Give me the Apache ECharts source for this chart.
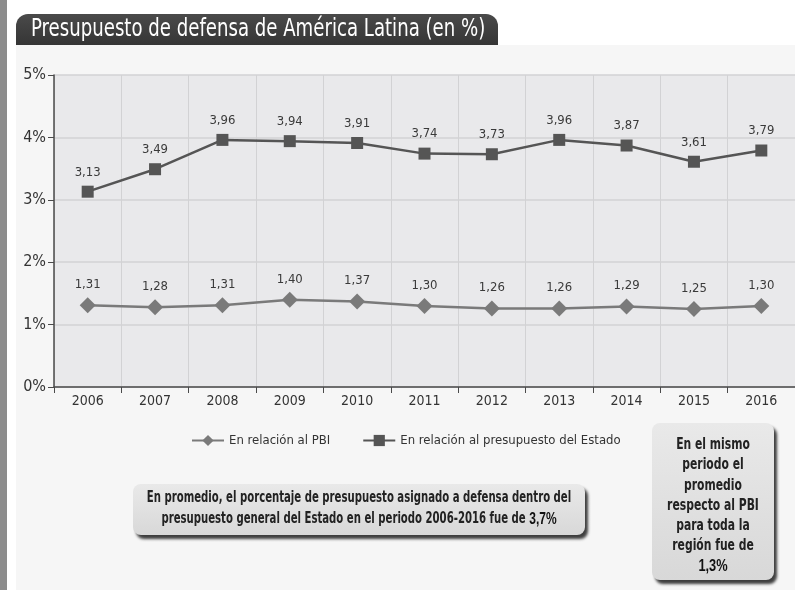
<!DOCTYPE html>
<html>
<head>
<meta charset="utf-8">
<script src="https://cdn.jsdelivr.net/npm/echarts@6/dist/echarts.min.js"></script>
<style>
  html, body { margin: 0; padding: 0; background: #ffffff; }
  #chart { width: 795px; height: 590px; }
</style>
</head>
<body>
<div id="chart"></div>
<script>
// Years on the horizontal axis
const years = ['2006', '2007', '2008', '2009', '2010', '2011', '2012', '2013', '2014', '2015', '2016'];
// Defence spending as % of GDP
const pbiValues = [1.31, 1.28, 1.31, 1.40, 1.37, 1.30, 1.26, 1.26, 1.29, 1.25, 1.30];
// Defence spending as % of the national budget
const estadoValues = [3.13, 3.49, 3.96, 3.94, 3.91, 3.74, 3.73, 3.96, 3.87, 3.61, 3.79];
// Vertical axis ticks (percent)
const yTicks = [0, 1, 2, 3, 4, 5];

const seriesNames = ['En relación al PBI', 'En relación al presupuesto del Estado'];
const FONT = '"DejaVu Sans Condensed", "Liberation Sans", sans-serif';

const fmt = v => v.toFixed(2).replace('.', ',');

const chart = echarts.init(document.getElementById('chart'), null, { renderer: 'canvas' });

const boxFill = new echarts.graphic.LinearGradient(0, 0, 0, 1, [
  { offset: 0, color: '#e9e9e9' }, { offset: 1, color: '#d8d8d8' }]);

chart.setOption({
  backgroundColor: '#ffffff',
  animation: false,
  textStyle: { fontFamily: FONT },
  graphic: [
    // left grey strip
    { type: 'rect', z: -10, shape: { x: 0, y: 0, width: 7, height: 590 }, style: { fill: '#8c8c8c' } },
    // panel background
    { type: 'rect', z: -10, shape: { x: 16, y: 45, width: 779, height: 545 }, style: { fill: '#f6f6f6' } },
    // title banner
    { type: 'rect', z: -5, shape: { x: 16, y: 14, width: 482, height: 31, r: [12, 12, 0, 0] },
      style: { fill: new echarts.graphic.LinearGradient(0, 0, 0, 1, [
        { offset: 0, color: '#4a4a4a' }, { offset: 1, color: '#353535' }]) } },
    { type: 'text', z: 10, x: 31, y: 30, scaleX: 0.84,
      style: { text: 'Presupuesto de defensa de América Latina (en %)', fill: '#ffffff',
               font: '24px ' + FONT, verticalAlign: 'middle', textAlign: 'left' } },
    // note box: state budget average
    { type: 'rect', z: 5, shape: { x: 133, y: 484, width: 452, height: 51, r: 8 },
      style: { fill: boxFill,
               shadowColor: 'rgba(0,0,0,0.75)', shadowBlur: 3, shadowOffsetX: 3, shadowOffsetY: 4 } },
    { type: 'text', z: 6, x: 359, y: 509, scaleX: 0.75,
      style: { text: 'En promedio, el porcentaje de presupuesto asignado a defensa dentro del\npresupuesto general del Estado en el periodo 2006-2016 fue de {b|3,7%}',
               fill: '#222', font: 'bold 15px ' + FONT, textAlign: 'center', verticalAlign: 'middle',
               lineHeight: 21,
               rich: { b: { fontWeight: 900, fontSize: 16, fill: '#111' } } } },
    // note box: GDP average
    { type: 'rect', z: 5, shape: { x: 652, y: 423, width: 122, height: 157, r: 8 },
      style: { fill: boxFill,
               shadowColor: 'rgba(0,0,0,0.75)', shadowBlur: 3, shadowOffsetX: 3, shadowOffsetY: 4 } },
    { type: 'text', z: 6, x: 713, y: 506, scaleX: 0.8,
      style: { text: 'En el mismo\nperiodo el\npromedio\nrespecto al PBI\npara toda la\nregión fue de\n{b|1,3%}',
               fill: '#222', font: 'bold 15px ' + FONT, textAlign: 'center', verticalAlign: 'middle',
               lineHeight: 20.3,
               rich: { b: { fontWeight: 900, fontSize: 16, fill: '#111' } } } }
  ],
  legend: {
    left: 186,
    top: 429,
    itemWidth: 32,
    itemHeight: 14,
    itemGap: 32,
    data: seriesNames,
    textStyle: { fontFamily: FONT, fontSize: 13, color: '#333' }
  },
  grid: {
    left: 54, right: 0, top: 75, bottom: 203,
    show: true, backgroundColor: '#e9e9eb', borderWidth: 0
  },
  xAxis: {
    type: 'category',
    data: years,
    boundaryGap: true,
    axisLine: { lineStyle: { color: '#4a4a4a', width: 1.5 } },
    axisTick: { show: true, length: 6, lineStyle: { color: '#4a4a4a' } },
    axisLabel: { fontFamily: FONT, fontSize: 14, color: '#333', margin: 7 },
    splitLine: { show: true, lineStyle: { color: '#d2d2d4', width: 1 } }
  },
  yAxis: {
    type: 'value',
    min: yTicks[0],
    max: yTicks[yTicks.length - 1],
    interval: 1,
    axisLine: { show: true, lineStyle: { color: '#4a4a4a', width: 1.5 } },
    axisTick: { show: true, length: 6, lineStyle: { color: '#4a4a4a' } },
    axisLabel: { fontFamily: FONT, fontSize: 16, color: '#333', margin: 8, formatter: '{value}%' },
    splitLine: { show: true, lineStyle: { color: '#d2d2d4', width: 1.5 } }
  },
  series: [
    {
      name: seriesNames[0],
      type: 'line',
      data: pbiValues,
      symbol: 'diamond',
      symbolSize: 16,
      itemStyle: { color: '#7a7a7a' },
      lineStyle: { color: '#7a7a7a', width: 2.5 },
      label: { show: true, position: 'top', distance: 6, fontFamily: FONT, fontSize: 13, color: '#3a3a3a',
               formatter: p => fmt(p.value) }
    },
    {
      name: seriesNames[1],
      type: 'line',
      data: estadoValues,
      symbol: 'rect',
      symbolSize: 12,
      itemStyle: { color: '#555555' },
      lineStyle: { color: '#555555', width: 2.5 },
      label: { show: true, position: 'top', distance: 7, fontFamily: FONT, fontSize: 13, color: '#3a3a3a',
               formatter: p => fmt(p.value) }
    }
  ]
});
</script>
</body>
</html>
